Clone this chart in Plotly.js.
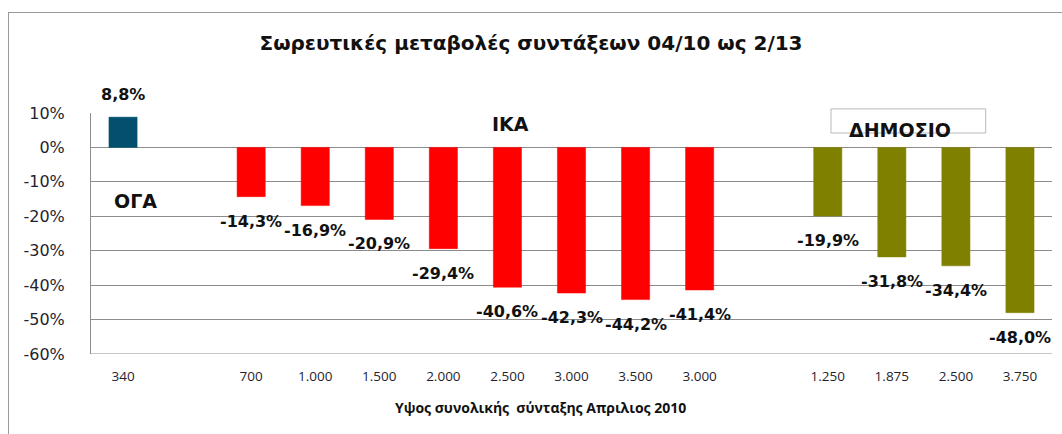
<!DOCTYPE html>
<html>
<head>
<meta charset="utf-8">
<script src="https://cdn.plot.ly/plotly-3.0.1.min.js"></script>
<style>
  html, body { margin: 0; padding: 0; background: #fff; }
  #chart { width: 1062px; height: 434px; position: absolute; left: 0; top: 0; }
  #frame { position: absolute; left: 8px; top: 12px; width: 1100px; height: 500px;
           border-left: 1px solid #9a9a9a; border-top: 1px solid #9a9a9a; pointer-events: none; }
</style>
</head>
<body>
<div id="chart"></div>
<div id="frame"></div>
<script>
// ---- data ----
const ogaLabels = ['340'];
const ogaValues = [8.8];
const ikaLabels = ['700', '1.000', '1.500', '2.000', '2.500', '3.000', '3.500', '3.000'];
const ikaValues = [-14.3, -16.9, -20.9, -29.4, -40.6, -42.3, -44.2, -41.4];
const dimLabels = ['1.250', '1.875', '2.500', '3.750'];
const dimValues = [-19.9, -31.8, -34.4, -48.0];
const groupNames = ['ΟΓΑ', 'ΙΚΑ', 'ΔΗΜΟΣΙΟ'];
const yTicks = [10, 0, -10, -20, -30, -40, -50, -60];

// ---- slot positions (one empty slot between groups) ----
const groups = [
  {labels: ogaLabels, values: ogaValues, color: '#03506e'},
  {labels: ikaLabels, values: ikaValues, color: '#ff0000'},
  {labels: dimLabels, values: dimValues, color: '#808000'}
];
let slot = 0;
const tickvals = [], ticktext = [];
const traces = [];
const annotations = [];
const fmt = v => v.toFixed(1).replace('.', ',') + '%';
groups.forEach((g, gi) => {
  const xs = g.labels.map((_, i) => slot + i);
  slot += g.labels.length + 1;
  xs.forEach((x, i) => { tickvals.push(x); ticktext.push(g.labels[i]); });
  traces.push({
    type: 'bar', x: xs, y: g.values, width: 0.44,
    marker: {color: g.color, line: {color: g.color, width: 0.5}},
    hoverinfo: 'skip', showlegend: false
  });
  xs.forEach((x, i) => {
    const v = g.values[i];
    annotations.push({
      x: x, y: v, xref: 'x', yref: 'y', text: fmt(v), showarrow: false,
      yanchor: v < 0 ? 'top' : 'bottom', yshift: v < 0 ? -13 : 11,
      font: {family: 'DejaVu Sans', size: 16, color: '#111', weight: 'bold'}
    });
  });
});

const grpFont = {family: 'DejaVu Sans', size: 19, color: '#111', weight: 'bold'};
annotations.push({x: 0.19, y: -15.7, xref: 'x', yref: 'y', text: groupNames[0], showarrow: false, font: grpFont});
annotations.push({x: 6.04, y: 6.7, xref: 'x', yref: 'y', text: groupNames[1], showarrow: false, font: grpFont});
annotations.push({x: 12.13, y: 5.2, xref: 'x', yref: 'y', text: groupNames[2], showarrow: false, font: grpFont});

// x-axis title (Excel placed it left of plot centre)
annotations.push({x: 0.468, y: -0.224, xref: 'paper', yref: 'paper', yanchor: 'middle', showarrow: false,
  text: 'Υψος συνολικής  σύνταξης Απριλιος 2010',
  font: {family: 'Open Sans', size: 14, color: '#111', weight: 'bold'}});

const layout = {
  width: 1062, height: 434,
  margin: {l: 91, r: 10, t: 113, b: 80},
  paper_bgcolor: 'rgba(0,0,0,0)', plot_bgcolor: '#fff',
  barmode: 'overlay',
  title: {text: 'Σωρευτικές μεταβολές συντάξεων 04/10 ως 2/13',
          x: 0.5, xanchor: 'center', y: 0.9, yanchor: 'middle', yref: 'container',
          font: {family: 'DejaVu Sans', size: 20, color: '#111', weight: 'bold'}},
  xaxis: {
    range: [-0.5, slot - 1.5], tickvals: tickvals, ticktext: ticktext,
    showgrid: false, zeroline: false, showline: false, ticks: '',
    tickfont: {family: 'Open Sans', size: 13.5, color: '#1f1f2f'}, ticklabelstandoff: 12
  },
  yaxis: {
    range: [-60, 10], tickvals: yTicks, ticktext: yTicks.map(v => v + '%'),
    showgrid: true, gridcolor: '#8c8c8c', gridwidth: 1,
    zeroline: false, showline: true, linecolor: '#8c8c8c', linewidth: 1,
    ticks: '', ticklabelstandoff: 22,
    tickfont: {family: 'DejaVu Sans', size: 16, color: '#1f1f2f'}
  },
  shapes: [
    {type: 'line', xref: 'paper', yref: 'y', x0: 0, x1: 1, y0: -60, y1: -60,
     line: {color: '#8c8c8c', width: 1}, layer: 'below'},
    {type: 'rect', xref: 'paper', yref: 'paper', x0: 0.770, x1: 0.931, y0: 0.917, y1: 1.017,
     fillcolor: '#fff', line: {color: '#b8b8b8', width: 1}, layer: 'above'}
  ],
  annotations: annotations
};

Plotly.newPlot('chart', traces, layout, {displayModeBar: false, staticPlot: true});
</script>
</body>
</html>
